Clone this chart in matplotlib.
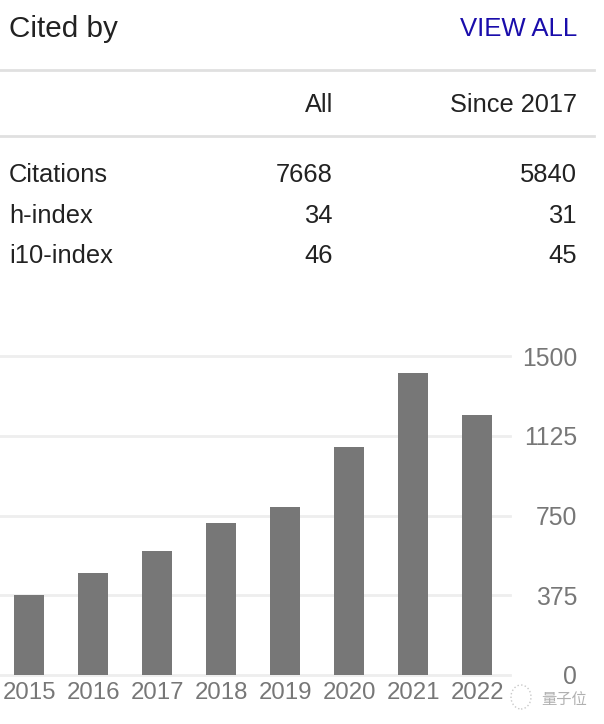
import matplotlib
matplotlib.use("Agg")
import matplotlib.pyplot as plt

# ---- data ----
years = ["2015", "2016", "2017", "2018", "2019", "2020", "2021", "2022"]
citations_per_year = [376, 479, 582, 714, 789, 1071, 1418, 1221]
ytick_values = [0, 375, 750, 1125, 1500]
row_labels = ["Citations", "h-index", "i10-index"]
col_headers = ["All", "Since 2017"]
all_values = ["7668", "34", "46"]
since_values = ["5840", "31", "45"]

plt.rcParams['font.family'] = ['Liberation Sans', 'Noto Sans CJK SC', 'DejaVu Sans']

W, H = 604, 724
fig = plt.figure(figsize=(W / 100, H / 100), dpi=100)

def fy(y):
    return 1 - y / H

def fx(x):
    return x / W

TXT = "#222222"
GRAY = "#777777"

# header
fig.text(fx(9), fy(29), "Cited by", fontsize=21.3, color=TXT, ha="left", va="center")
fig.text(fx(577), fy(29), "VIEW ALL", fontsize=18.5, color="#1a0dab", ha="right", va="center")

# separators
for yy in (70, 136):
    fig.add_artist(plt.Line2D([0, fx(594)], [fy(yy), fy(yy)], color="#e0e0e0", lw=2,
                              transform=fig.transFigure))

# column headers
col_x = [333, 577]
for cx, h in zip(col_x, col_headers):
    fig.text(fx(cx), fy(105), h, fontsize=18.3, color=TXT, ha="right", va="center")

# table rows
row_y = [175, 216, 256]
for ry, lab, a, s in zip(row_y, row_labels, all_values, since_values):
    fig.text(fx(9), fy(ry), lab, fontsize=18.4, color=TXT, ha="left", va="center")
    fig.text(fx(col_x[0]), fy(ry), a, fontsize=18.4, color=TXT, ha="right", va="center")
    fig.text(fx(col_x[1]), fy(ry), s, fontsize=18.4, color=TXT, ha="right", va="center")

# chart
ax_left, ax_right, ax_top, ax_bottom = 0, 510, 356, 675
ax = fig.add_axes([fx(ax_left), fy(ax_bottom), fx(ax_right - ax_left), (ax_bottom - ax_top) / H])
x = list(range(len(years)))
ax.bar(x, citations_per_year, width=0.47, color=GRAY, zorder=2)
ax.set_xlim(-29 / 64, (510 - 29) / 64)
ax.set_ylim(0, 1500)
for s in ax.spines.values():
    s.set_visible(False)
ax.yaxis.grid(True, color="#eeeeee", lw=2, zorder=0)
ax.set_axisbelow(True)
ax.yaxis.tick_right()
ax.set_yticks(ytick_values)
ax.set_yticklabels([str(v) for v in ytick_values])
ax.tick_params(axis="y", length=0, pad=67 * 0.72, labelsize=17.8, labelcolor=GRAY)
for lab in ax.get_yticklabels():
    lab.set_horizontalalignment("right")
ax.set_xticks(x)
ax.set_xticklabels(years)
ax.tick_params(axis="x", length=0, pad=5, labelsize=17.3, labelcolor=GRAY)
for gl in ax.get_ygridlines():
    gl.set_clip_on(False)

# watermark
fig.text(fx(541), fy(699), "量子位", fontsize=11, color="#b0b0b0", ha="left", va="center",
         family=['Noto Sans CJK SC', 'DejaVu Sans'])
fig.add_artist(plt.Circle((fx(521), fy(697)), 10 / W, transform=fig.transFigure,
                          fill=False, ec="#c8c8c8", lw=1, ls=":"))

fig.savefig("out.png", dpi=100)
